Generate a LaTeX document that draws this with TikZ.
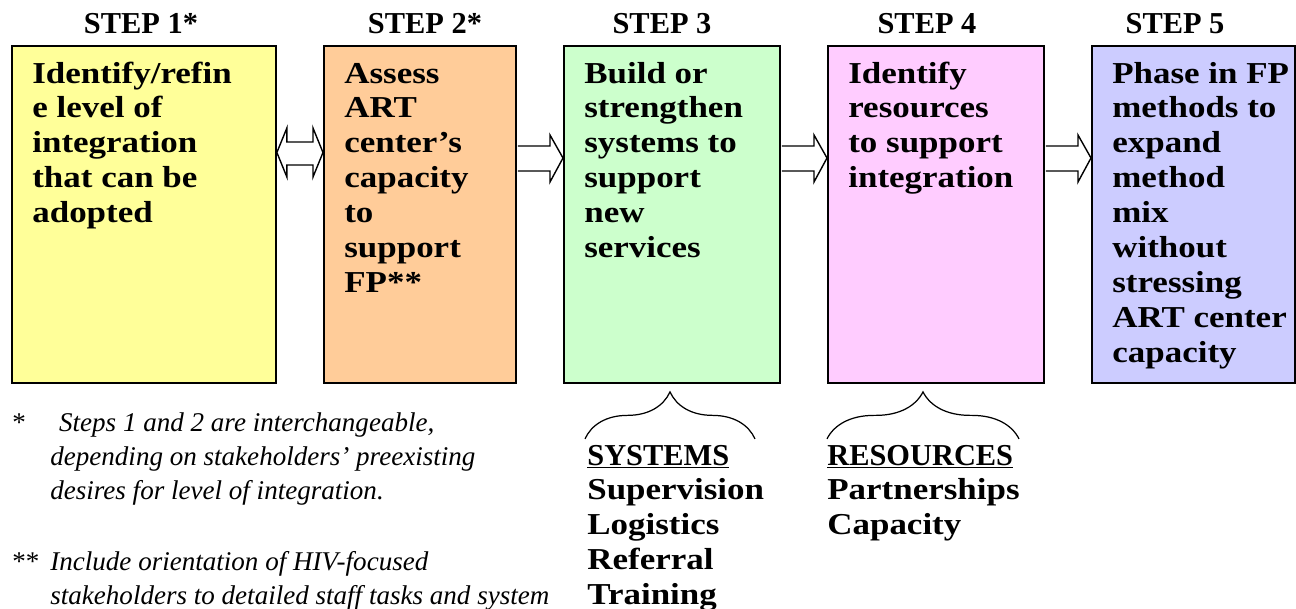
\documentclass[tikz,border=0pt]{standalone}
\usepackage{fontspec}
\setmainfont{Liberation Serif}
\newfontfamily\boxfont[FakeStretch=1.15]{Liberation Serif}
\usetikzlibrary{calc,decorations.pathreplacing}
\definecolor{stepyellow}{HTML}{FFFF99}
\definecolor{steppeach}{HTML}{FFCC99}
\definecolor{stepgreen}{HTML}{CCFFCC}
\definecolor{steppink}{HTML}{FFCCFF}
\definecolor{stepblue}{HTML}{CCCCFF}
\tikzset{
  stepbox/.style={draw, line width=1.1pt, anchor=north west, inner sep=0pt, minimum height=6.74cm},
  steplabel/.style={anchor=base, inner sep=0pt, font=\bfseries\fontsize{17.3}{19.9}\selectfont},
  steptext/.style={anchor=base west, inner sep=0pt, font=\boxfont\bfseries\fontsize{17.3}{19.9}\selectfont},
  notemark/.style={anchor=base west, inner sep=0pt, font=\fontsize{15.4}{19.4}\selectfont},
  notetext/.style={anchor=base west, inner sep=0pt, font=\itshape\fontsize{15.4}{19.4}\selectfont},
  fatarrow/.style={draw, fill=white, line width=0.8pt, line join=miter},
  groupbrace/.style={decorate, decoration={brace, amplitude=0.94cm}, line width=0.7pt}
}
% lines stacked from the first baseline down
\newcommand{\lines}[1]{\begin{tabular}[t]{@{}l@{}}#1\end{tabular}}
% hollow arrow from box #1 to box #2
\newcommand{\blockarrow}[2]{%
  \draw[fatarrow] ($(#1.north east)+(1,101)$) -- ($(#2.north west)+(-13,101)$)
    -- ($(#2.north west)+(-13,90)$) -- ($(#2.north west)+(0,113)$)
    -- ($(#2.north west)+(-13,137)$) -- ($(#2.north west)+(-13,126)$)
    -- ($(#1.north east)+(1,126)$);
}
\begin{document}
\begin{tikzpicture}[x=0.02cm, y=-0.02cm]
\clip (0,0) rectangle (1296,609);
% the five steps
\node[stepbox, fill=stepyellow, minimum width=5.28cm] (b1) at (11,45) {};
\node[stepbox, fill=steppeach, minimum width=3.84cm] (b2) at (323,45) {};
\node[stepbox, fill=stepgreen, minimum width=4.32cm] (b3) at (563,45) {};
\node[stepbox, fill=steppink, minimum width=4.32cm] (b4) at (827,45) {};
\node[stepbox, fill=stepblue, minimum width=4.06cm] (b5) at (1091,45) {};

\node[steplabel] (s1) at (141,33) {STEP 1*};
\node[steplabel] (s2) at (425,33) {STEP 2*};
\node[steplabel] (s3) at (662,33) {STEP 3};
\node[steplabel] (s4) at (927,33) {STEP 4};
\node[steplabel] (s5) at (1175,33) {STEP 5};

\node[steptext] (t1) at ($(b1.north west)+(21,38)$) {\lines{Identify/refin\\e level of\\integration\\that can be\\adopted}};
\node[steptext] (t2) at ($(b2.north west)+(21,38)$) {\lines{Assess\\ART\\center’s\\capacity\\to\\support\\FP**}};
\node[steptext] (t3) at ($(b3.north west)+(21,38)$) {\lines{Build or\\strengthen\\systems to\\support\\new\\services}};
\node[steptext] (t4) at ($(b4.north west)+(21,38)$) {\lines{Identify\\resources\\to support\\integration}};
\node[steptext] (t5) at ($(b5.north west)+(21,38)$) {\lines{Phase in FP\\methods to\\expand\\method\\mix\\without\\stressing\\ART center\\capacity}};

% arrows
\draw[fatarrow] ($(b1.north east)+(0,107.5)$) -- ($(b1.north east)+(10,83)$)
  -- ($(b1.north east)+(10,97)$) -- ($(b2.north west)+(-10,97)$)
  -- ($(b2.north west)+(-10,83)$) -- ($(b2.north west)+(0,107.5)$)
  -- ($(b2.north west)+(-10,132)$) -- ($(b2.north west)+(-10,120)$)
  -- ($(b1.north east)+(10,120)$) -- ($(b1.north east)+(10,132)$) -- cycle;
\blockarrow{b2}{b3}
\blockarrow{b3}{b4}
\blockarrow{b4}{b5}

% braces and lists
\draw[groupbrace] ($(b3.south west)+(22,55)$) -- ($(b3.south west)+(192,55)$);
\draw[groupbrace] ($(b4.south west)+(0,55)$) -- ($(b4.south west)+(192,55)$);
\node[steptext] (sys) at (587,465) {\lines{{\rmfamily\underline{SYSTEMS}}\\Supervision\\Logistics\\Referral\\Training}};
\node[steptext] (res) at (827,465) {\lines{{\rmfamily\underline{RESOURCES}}\\Partnerships\\Capacity}};

% footnotes
\node[notemark] (m1) at (12,431) {*};
\node[notetext] (n1) at (50,431) {\lines{\hspace{5pt}Steps 1 and 2 are interchangeable,\\depending on stakeholders’ preexisting\\desires for level of integration.}};
\node[notemark] (m2) at (12,570) {**};
\node[notetext] (n2) at (50,570) {\lines{Include orientation of HIV-focused\\stakeholders to detailed staff tasks and system}};
\end{tikzpicture}
\end{document}
